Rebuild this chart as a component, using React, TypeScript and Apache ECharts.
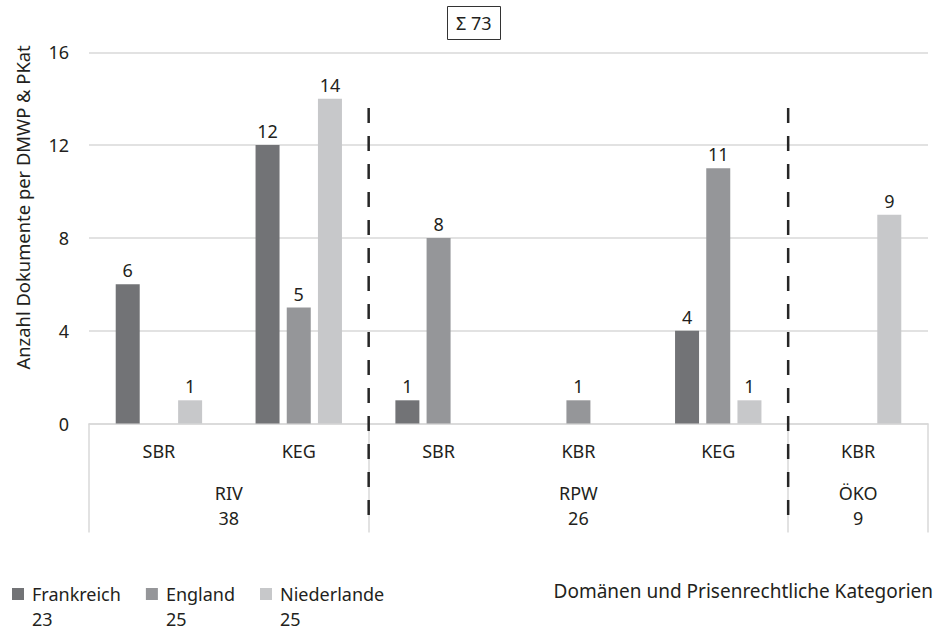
import React, { useEffect, useRef } from "react";
import * as echarts from "echarts";

const categories = ["SBR", "KEG", "SBR", "KBR", "KEG", "KBR"];
const groups = ["RIV", "RPW", "ÖKO"];
const groupSpans = [2, 3, 1];
const seriesNames = ["Frankreich", "England", "Niederlande"];
const frankreich = [6, 12, 1, 0, 4, 0];
const england = [0, 5, 8, 1, 11, 0];
const niederlande = [1, 14, 0, 0, 1, 9];
const yMin = 0;
const yMax = 16;
const yInterval = 4;

const seriesData = [frankreich, england, niederlande];
const colors = ["#727376", "#959699", "#c7c8ca"];

export default function App() {
  const ref = useRef<HTMLDivElement>(null);

  useEffect(() => {
    if (!ref.current) return;
    const chart = echarts.init(ref.current, null, { renderer: "svg" });
    const font = "Noto Sans";
    const textColor = "#231f20";

    const sum = (a: number[]) => a.reduce((s, v) => s + v, 0);
    const seriesTotals = seriesData.map(sum);
    const grandTotal = sum(seriesTotals);

    // second-level axis: 2*n+1 points, boundaryGap false
    const n = categories.length;
    const groupAxis: string[] = new Array(2 * n + 1).fill("");
    const boundaries: number[] = [0];
    let start = 0;
    groups.forEach((g, gi) => {
      const span = groupSpans[gi];
      let tot = 0;
      for (let c = start; c < start + span; c++) {
        seriesData.forEach((s) => (tot += s[c]));
      }
      groupAxis[2 * start + span] = g + "\n" + tot;
      start += span;
      boundaries.push(2 * start);
    });
    const innerBoundaries = boundaries.slice(1, -1);

    const legendRich = (lh: number) => ({
      fontFamily: font,
      fontSize: 18,
      lineHeight: lh,
      align: "left",
      color: textColor,
    });

    const option: any = {
      animation: false,
      textStyle: { fontFamily: font, color: textColor },
      title: {
        text: "Σ " + grandTotal,
        left: 447,
        top: 6,
        padding: [8, 9],
        borderWidth: 1,
        borderColor: "#333",
        textStyle: { fontFamily: font, fontSize: 18, fontWeight: "normal", color: textColor },
      },
      legend: {
        data: seriesNames,
        left: 12,
        top: 560.5,
        padding: 0,
        itemWidth: 12,
        itemHeight: 12,
        itemGap: 25,
        icon: "rect",
        formatter: (name: string) =>
          "{s| }\n{n|" + name + "}\n{v|" + seriesTotals[seriesNames.indexOf(name)] + "}",
        textStyle: {
          fontFamily: font,
          fontSize: 18,
          color: textColor,
          padding: [0, 0, 0, 3],
          rich: {
            s: legendRich(16),
            n: legendRich(33),
            v: legendRich(16),
          },
        },
      },
      grid: { left: 89, right: 7, top: 52.3, bottom: 206.5 },
      xAxis: [
        {
          type: "category",
          data: categories,
          position: "bottom",
          axisLine: { show: true, lineStyle: { color: "#d9d9d9", width: 1.5 } },
          axisTick: { show: false },
          axisLabel: { fontFamily: font, fontSize: 18, color: textColor, margin: 18, interval: 0 },
          name: "Domänen und Prisenrechtliche Kategorien",
          nameLocation: "end",
          nameGap: 5,
          nameTextStyle: {
            fontFamily: font,
            fontSize: 19,
            color: textColor,
            align: "right",
            verticalAlign: "top",
            padding: [158, 0, 0, 0],
          },
        },
        {
          type: "category",
          data: groupAxis,
          position: "bottom",
          boundaryGap: false,
          axisLine: { show: false },
          axisTick: {
            show: true,
            length: 109,
            interval: (index: number) => boundaries.includes(index),
            lineStyle: { color: "#d9d9d9", width: 1.5 },
          },
          axisLabel: {
            fontFamily: font,
            fontSize: 18,
            color: textColor,
            margin: 57,
            interval: 0,
            lineHeight: 25,
          },
        },
      ],
      yAxis: {
        type: "value",
        min: yMin,
        max: yMax,
        interval: yInterval,
        axisLine: { show: false },
        axisTick: { show: false },
        splitLine: { lineStyle: { color: "#d9d9d9", width: 1.5 } },
        axisLabel: { fontFamily: font, fontSize: 18, color: textColor, margin: 20 },
        name: "Anzahl Dokumente per DMWP & PKat",
        nameLocation: "middle",
        nameGap: 58,
        nameTextStyle: {
          fontFamily: font,
          fontSize: 18.4,
          color: textColor,
          padding: [0, 0, 0, 61],
        },
      },
      series: [
        ...seriesNames.map((name, i) => ({
          name,
          type: "bar",
          data: seriesData[i],
          xAxisIndex: 0,
          barWidth: 24,
          barGap: "30%",
          itemStyle: { color: colors[i] },
          label: {
            show: true,
            position: "top",
            distance: 5,
            fontFamily: font,
            fontSize: 18,
            color: textColor,
            formatter: (p: any) => (p.value ? String(p.value) : ""),
          },
        })),
        {
          name: "separators",
          type: "custom",
          xAxisIndex: 1,
          yAxisIndex: 0,
          clip: false,
          silent: true,
          data: innerBoundaries.map((b) => [b, 0]),
          encode: { x: 0, y: 1 },
          renderItem: (params: any, api: any) => {
            const x = api.value(0);
            const p1 = api.coord([x, 13.6]);
            const p2 = api.coord([x, -4.1]);
            return {
              type: "line",
              shape: { x1: p1[0], y1: p1[1], x2: p2[0], y2: p2[1] },
              style: { stroke: "#262626", lineWidth: 2.5, lineDash: [15, 13] },
              silent: true,
            };
          },
        },
      ],
    };

    chart.setOption(option);
    return () => chart.dispose();
  }, []);

  return (
    <div
      ref={ref}
      style={{ position: "absolute", left: 0, top: 0, width: 936, height: 630, background: "#fff" }}
    />
  );
}
